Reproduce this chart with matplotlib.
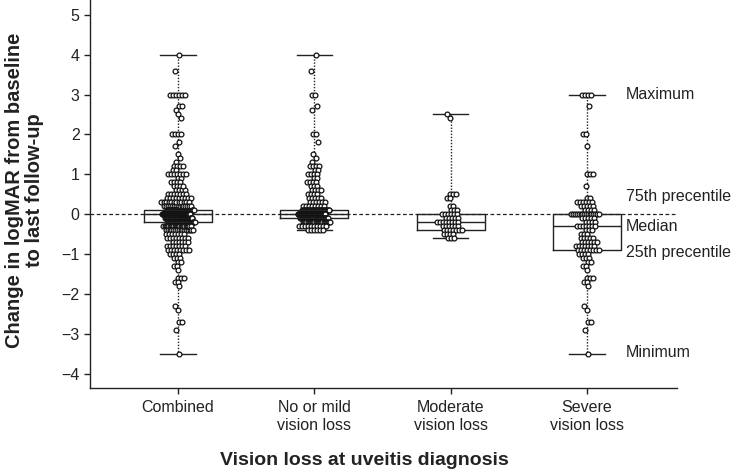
import numpy as np
import matplotlib
matplotlib.use("Agg")
import matplotlib.pyplot as plt

plt.rcParams['font.family'] = ['Liberation Sans', 'DejaVu Sans']

# ---- data ----
categories = ["Combined", "No or mild\nvision loss", "Moderate\nvision loss", "Severe\nvision loss"]

mild_vals = [4.0, 3.6, 3.0, 2.7, 2.6, 2.0, 1.8, 1.5, 1.4, 1.3, 1.2, 1.1, 1.0, 0.9, 0.8,
             0.7, 0.6, 0.5, 0.4, 0.3, 0.2, 0.1, 0.0, -0.1, -0.2, -0.3, -0.4]
mild_counts = [1, 1, 2, 1, 1, 2, 1, 1, 1, 1, 4, 2, 4, 2, 4,
               3, 4, 4, 5, 6, 8, 35, 60, 40, 25, 10, 6]

mod_vals = [2.5, 2.4, 0.5, 0.4, 0.2, 0.1, 0.0, -0.1, -0.2, -0.3, -0.4, -0.5, -0.6]
mod_counts = [1, 1, 3, 2, 2, 3, 6, 5, 8, 6, 7, 4, 3]

sev_vals = [3.0, 2.7, 2.0, 1.7, 1.0, 0.7, 0.4, 0.3, 0.2, 0.1, 0.0, -0.1, -0.2, -0.3,
            -0.4, -0.5, -0.6, -0.7, -0.8, -0.9, -1.0, -1.1, -1.2, -1.3, -1.4, -1.6,
            -1.7, -1.8, -2.3, -2.4, -2.7, -2.9, -3.5]
sev_counts = [4, 1, 2, 1, 3, 1, 2, 6, 5, 4, 16, 5, 4, 7,
              3, 3, 5, 6, 7, 8, 4, 3, 2, 2, 1, 3,
              2, 1, 1, 1, 2, 1, 1]

annot_labels = ["Maximum", "75th precentile", "Median", "25th precentile", "Minimum"]

mild = np.repeat(mild_vals, mild_counts)
moderate = np.repeat(mod_vals, mod_counts)
severe = np.repeat(sev_vals, sev_counts)
combined = np.concatenate([mild, moderate, severe])
groups = [combined, mild, moderate, severe]
positions = [1, 2, 3, 4]

# ---- figure ----
fig = plt.figure(figsize=(7.34, 4.71), dpi=100)
ax = fig.add_axes([90 / 734, 1 - 388 / 471, 587 / 734, 388 / 471])

dark = '#222222'
ax.axhline(0, color=dark, lw=0.9, dashes=(3, 2), zorder=1)

ax.boxplot(groups, positions=positions, widths=0.5, whis=(0, 100), showfliers=False,
           capwidths=0.26,
           boxprops=dict(color=dark, lw=1.0),
           medianprops=dict(color=dark, lw=1.0),
           whiskerprops=dict(color=dark, lw=1.0, linestyle=(0, (1, 1.2))),
           capprops=dict(color=dark, lw=1.0), zorder=2)


def swarm_x(vals, center):
    vals = np.asarray(vals)
    xs = np.empty(len(vals))
    uniq = np.unique(vals)
    for r, u in enumerate(uniq):
        idx = np.where(vals == u)[0]
        k = len(idx)
        w = min(0.011 * (k - 1), 0.10)
        base = np.linspace(-w, w, k) if k > 1 else np.zeros(1)
        shift = (((r + 1) * 0.618) % 1 - 0.5) * 0.05
        xs[idx] = center + base + shift
    return xs


for g, p in zip(groups, positions):
    ax.scatter(swarm_x(g, p), g, s=12, facecolors='white', edgecolors='#111111',
               linewidths=0.9, zorder=3)

# annotations next to severe box
q1, med, q3 = np.percentile(severe, [25, 50, 75])
ann_y = [severe.max(), q3 + 0.43, med - 0.02, q1 - 0.05, severe.min() + 0.02]
for lab, yy in zip(annot_labels, ann_y):
    ax.text(4.286, yy, lab, fontsize=11.5, va='center', ha='left', color=dark)

ax.set_xlim(0.355, 4.66)
ax.set_ylim(-4.36, 5.37)
ax.set_yticks(range(-4, 6))
ax.set_yticklabels([str(v).replace('-', '\u2212') for v in range(-4, 6)])
ax.set_xticks(positions)
ax.set_xticklabels(categories)
ax.tick_params(axis='both', labelsize=11.5, colors=dark, length=4, width=1, direction='out')
ax.tick_params(axis='x', pad=5)

for s in ['top', 'right']:
    ax.spines[s].set_visible(False)
for s in ['left', 'bottom']:
    ax.spines[s].set_color(dark)
    ax.spines[s].set_linewidth(1.0)

ax.set_ylabel("Change in logMAR from baseline\nto last follow-up", fontsize=14.5,
              fontweight='bold', color=dark, linespacing=1.1)
ax.yaxis.set_label_coords(-0.078, 0.51)
ax.set_xlabel("Vision loss at uveitis diagnosis", fontsize=14, fontweight='bold', color=dark)
ax.xaxis.set_label_coords(0.468, -0.165)

fig.savefig("out.png", dpi=100)
